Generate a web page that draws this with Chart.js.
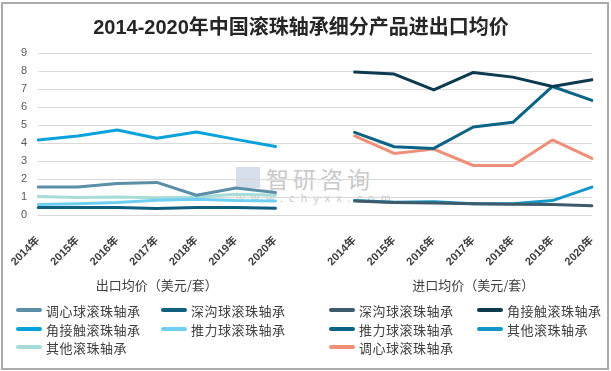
<!DOCTYPE html>
<html>
<head>
<meta charset="utf-8">
<script src="https://cdn.jsdelivr.net/npm/chart.js@4.4.1/dist/chart.umd.min.js"></script>
<style>
  html, body { margin: 0; padding: 0; background: #fff; }
  #wrap { position: relative; width: 611px; height: 371px; overflow: hidden; font-family: "Liberation Sans", "Noto Sans CJK SC", sans-serif; }
  #frame { position: absolute; left: 1px; top: 2px; width: 604px; height: 364px; border: 2px solid #ABABAB; }
  #c { position: absolute; left: 0; top: 0; }
  .wm { position: absolute; color: #C9C9C9; font-family: "Noto Sans CJK SC", sans-serif; white-space: nowrap; }
  .lg { position: absolute; height: 18px; display: flex; align-items: center; font-size: 13px; color: #404040; letter-spacing: 0.5px; white-space: nowrap; font-family: "Noto Sans CJK SC", sans-serif; }
  .lg i { display: inline-block; width: 26px; height: 3.5px; border-radius: 2px; margin-right: 4px; }
</style>
</head>
<body>
<div id="wrap">
  <div class="wm" style="left:236px;top:167px;width:24px;height:21px;background:#D5DEEA;"></div>
  <div class="wm" style="left:266px;top:161px;font-size:23px;letter-spacing:4px;">智研咨询</div>
  <div class="wm" style="left:236px;top:189px;font-size:11px;letter-spacing:6px;">www.chyxx.com</div>
  <canvas id="c" width="611" height="300"></canvas>
  <div id="frame"></div>
  <div id="legend"></div>
</div>
<script>
// ---- data ----
const years = ['2014年', '2015年', '2016年', '2017年', '2018年', '2019年', '2020年'];
const groupLabels = ['出口均价（美元/套）', '进口均价（美元/套）'];

// export (出口) series
const exportNames = ['调心球滚珠轴承', '深沟球滚珠轴承', '角接触滚珠轴承', '推力球滚珠轴承', '其他滚珠轴承'];
const exp调心球 = [1.55, 1.55, 1.75, 1.81, 1.10, 1.50, 1.25];
const exp深沟球 = [0.42, 0.42, 0.42, 0.36, 0.42, 0.42, 0.37];
const exp角接触 = [4.17, 4.39, 4.72, 4.26, 4.61, 4.20, 3.80];
const exp推力球 = [0.59, 0.63, 0.69, 0.82, 0.87, 0.80, 0.78];
const exp其他 = [1.03, 0.97, 1.00, 0.96, 1.00, 1.15, 1.10];

// import (进口) series
const importNames = ['深沟球滚珠轴承', '角接触滚珠轴承', '推力球滚珠轴承', '其他滚珠轴承', '调心球滚珠轴承'];
const imp深沟球 = [0.78, 0.70, 0.66, 0.62, 0.60, 0.58, 0.52];
const imp角接触 = [7.94, 7.83, 6.95, 7.92, 7.66, 7.14, 7.51];
const imp推力球 = [4.59, 3.79, 3.70, 4.89, 5.15, 7.14, 6.37];
const imp其他 = [0.80, 0.71, 0.73, 0.63, 0.63, 0.80, 1.55];
const imp调心球 = [4.39, 3.42, 3.66, 2.75, 2.75, 4.17, 3.14];

const yTicks = [0, 1, 2, 3, 4, 5, 6, 7, 8, 9];

// ---- styles ----
const exportColors = ['#5B8FA7', '#0F5F80', '#0AA2DC', '#6FCFF2', '#A7DCD8'];
const importColors = ['#3E5B6B', '#0C3A4E', '#0B6486', '#1396C9', '#EF8F78'];

const exportData = [exp调心球, exp深沟球, exp角接触, exp推力球, exp其他];
const importData = [imp深沟球, imp角接触, imp推力球, imp其他, imp调心球];

const gap = [null];
const labels = [...years, '', ...years];
const groupAxisLabels = labels.map((_, i) => i === 3 ? groupLabels[0] : (i === 11 ? groupLabels[1] : ''));

const datasets = [];
exportNames.forEach((n, i) => {
  datasets.push({ label: n, data: [...exportData[i], ...gap, ...years.map(() => null)],
    borderColor: exportColors[i], backgroundColor: exportColors[i], group: 0, idx: i });
});
importNames.forEach((n, i) => {
  datasets.push({ label: n, data: [...years.map(() => null), ...gap, ...importData[i]],
    borderColor: importColors[i], backgroundColor: importColors[i], group: 1, idx: i });
});
datasets.forEach(d => { d.borderWidth = 3; d.pointRadius = 0; d.pointHoverRadius = 0; d.tension = 0; d.spanGaps = false; d.fill = false; d.borderCapStyle = 'round'; d.borderJoinStyle = 'round'; });

const noPad = (s, h) => { s.height = h; s.paddingLeft = 0; s.paddingRight = 0; };

const chart = new Chart(document.getElementById('c'), {
  type: 'line',
  data: { labels, datasets },
  options: {
    responsive: false,
    animation: false,
    layout: { padding: { left: 10, right: 19, top: 0, bottom: 8 } },
    plugins: {
      legend: { display: false },
      tooltip: { enabled: false },
      title: {
        display: true,
        text: '2014-2020年中国滚珠轴承细分产品进出口均价',
        color: '#262626',
        font: { size: 20, weight: 'bold', family: '"Liberation Sans Narrow", "Liberation Sans", "Noto Sans CJK SC", sans-serif' },
        padding: { top: 16, bottom: 13 }
      }
    },
    scales: {
      x: {
        type: 'category',
        position: 'bottom',
        grid: { display: false, drawTicks: false },
        border: { display: false },
        afterFit: (s) => noPad(s, 56),
        ticks: {
          autoSkip: false, maxRotation: 45, minRotation: 45, padding: 19, labelOffset: 0,
          color: '#404040',
          font: { size: 11, weight: 'bold', family: '"Liberation Sans", "Noto Sans CJK SC", sans-serif' }
        }
      },
      x2: {
        type: 'category',
        position: 'bottom',
        labels: groupAxisLabels,
        grid: { display: false, drawTicks: false },
        border: { display: false },
        afterFit: (s) => noPad(s, 21),
        ticks: {
          autoSkip: false, maxRotation: 0, minRotation: 0, padding: 6,
          color: '#404040',
          font: { size: 13, family: '"Noto Sans CJK SC", sans-serif' }
        }
      },
      y: {
        min: 0, max: 9,
        afterBuildTicks: (s) => { s.ticks = yTicks.map(v => ({ value: v })); },
        grid: { color: '#D9D9D9', lineWidth: 1, drawTicks: false },
        border: { display: false },
        ticks: { autoSkip: false, stepSize: 1, padding: 11, color: '#595959', font: { size: 11, family: '"Liberation Sans", sans-serif' } }
      }
    }
  }
});

// ---- legend (two blocks, two columns each, like the original) ----
const colX = [16, 161, 329, 477];
const rowY = [301, 320, 338];
const legend = document.getElementById('legend');
chart.data.datasets.forEach(d => {
  const col = d.group * 2 + (d.idx % 2);
  const row = Math.floor(d.idx / 2);
  const el = document.createElement('div');
  el.className = 'lg';
  el.style.left = colX[col] + 'px';
  el.style.top = rowY[row] + 'px';
  el.innerHTML = '<i style="background:' + d.borderColor + '"></i><span></span>';
  el.querySelector('span').textContent = d.label;
  legend.appendChild(el);
});
</script>
</body>
</html>
